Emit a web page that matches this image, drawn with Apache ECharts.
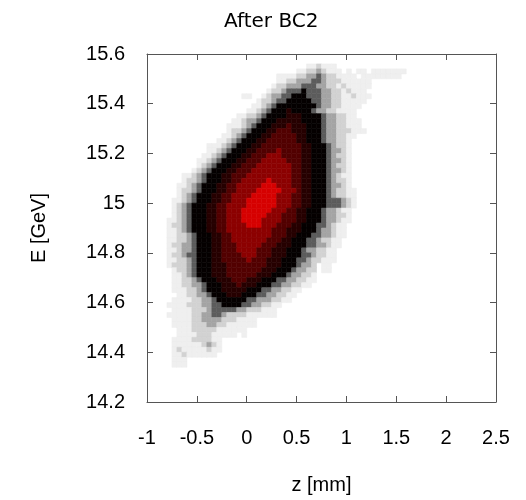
<!DOCTYPE html>
<html>
<head>
<meta charset="utf-8">
<script src="https://cdn.jsdelivr.net/npm/echarts@6/dist/echarts.min.js"></script>
<style>
  html, body { margin: 0; padding: 0; background: #fff; }
  #chart { width: 526px; height: 500px; }
</style>
</head>
<body>
<div id="chart"></div>
<script>
// histogram bins: z (mm) columns, E (GeV) rows
const zFirstEdge = -0.8;
const zBin = 0.05;
const eTopEdge = 15.56;
const eBin = 0.02;

const xTicks = [-1, 2.5, 0.5];     // min, max, step
const yTicks = [14.2, 15.6, 0.2];

// first non-empty column of each row (row 0 = top)
const rowStart = [
  28, 26, 22, 22, 21, 20, 15, 18, 17, 16,
  14, 13, 12, 12, 11, 10, 8, 8, 7, 6,
  6, 5, 3, 3, 2, 2, 2, 1, 1, 1,
  1, 0, 0, 0, 0, 0, 0, 0, 0, 0,
  0, 1, 1, 1, 1, 1, 2, 1, 0, 1,
  0, 1, 1, 2, 2, 1, 1, 1, 1, 1,
  1
];

// density level per cell: 0 empty, 1-4 greys, 5 black, 6-9 dark to bright red
const rowLevels = [
  "112111",
  "1122321110101101111111",
  "11112233432211110111111110",
  "1122333443222111111",
  "12233344433221211111",
  "12234445444332212111",
  "11001233445554443322112111",
  "1223445555544332211111",
  "1123455555555433221111",
  "1123455565555433221111",
  "112234 55556665555 4332211",
  "112334 555666665555 43322111",
  "111234 5556667666555 43322111",
  "12234 55566777666555 433222111",
  "11234 555667777766555 4332211",
  "11234 5556677777766555 433221",
  "111234 555667777777766555 43221",
  "11234 5556677778777766555 43321",
  "11234 55566777888777766555 43221",
  "11234 555667778888877766555 43321",
  "1234 5556677788888887766555 43221",
  "1234 55566777888888887766555 43321",
  "11234 555667778888888887766555 43211",
  "12234 555667788888988887766555 43221",
  "11234 5556677888889998887766555 43321",
  "12234 5556677888899999888766555 432211",
  "1234 55566778888999998887766555 432211",
  "11234 55566778889999998887766555 444321",
  "1234 555667788889999998887766555 444321",
  "1234 55566778889999998887766555 433211",
  "1234 55566778889999988877766555 433221",
  "11234 55566778889999888877766555 433211",
  "12234 5556677888899988877766555 443211",
  "11234 5556677888888888777666555 433211",
  "112234 55566778888888877766555 4433211",
  "112234 5556677888888877766555 4432211",
  "122334 5556677788888777666555 4433211",
  "112334 555667778888777666555 4332211",
  "122344 555667777888777666555 4432211",
  "112234 55566777778777666555 44322111",
  "122234 55566677777777666555 4332011",
  "12234 5556667777777666555 43322011",
  "11234 555666777777666555 433221",
  "112234 555666777666555 44332211",
  "1122334 5556667666555 44332211",
  "1112234 55566666555 44332211",
  "1122334 555666555 44332211",
  "111122334 555555 443332211",
  "11112223344 5555 44332211",
  "111122234444433222111",
  "1111122334432222111111",
  "11112233332221111",
  "11112223322111111",
  "11122222111111",
  "11112221111101",
  "1111222211",
  "1111112321",
  "1211111211",
  "1121111110",
  "111",
  "111"
];

const levelColors = ['#efefef', '#d2d2d2', '#a4a4a4', '#5c5c5c', '#050000',
                     '#260000', '#520000', '#8c0000', '#d60000'];

let cells = [];
rowLevels.forEach((s, r) => {
  const levels = s.replace(/ /g, '');
  const e = eTopEdge - eBin * (r + 0.5);
  for (let i = 0; i < levels.length; i++) {
    const v = +levels[i];
    if (v > 0) {
      const z = zFirstEdge + zBin * (rowStart[r] + i + 0.5);
      cells.push([+z.toFixed(3), +e.toFixed(3), v]);
    }
  }
});

let myChart = echarts.init(document.getElementById('chart'));

const axisColor = '#555';
const labelFont = 'Liberation Sans';

function xAxisCfg(pos, showLabel) {
  return {
    type: 'value',
    position: pos,
    min: xTicks[0],
    max: xTicks[1],
    interval: xTicks[2],
    axisLine: { show: true, onZero: false, lineStyle: { color: axisColor, width: 1 } },
    axisTick: { show: true, inside: true, length: 6, lineStyle: { color: axisColor } },
    axisLabel: { show: showLabel, color: '#000', fontSize: 20, fontFamily: labelFont, margin: 26 },
    splitLine: { show: false }
  };
}

function yAxisCfg(pos, showLabel) {
  return {
    type: 'value',
    position: pos,
    min: yTicks[0],
    max: yTicks[1],
    interval: yTicks[2],
    axisLine: { show: true, onZero: false, lineStyle: { color: axisColor, width: 1 } },
    axisTick: { show: true, inside: true, length: 6, lineStyle: { color: axisColor } },
    axisLabel: { show: showLabel, color: '#000', fontSize: 20, fontFamily: labelFont, margin: 22 },
    splitLine: { show: false }
  };
}

let xBottom = xAxisCfg('bottom', true);
xBottom.name = 'z [mm]';
xBottom.nameLocation = 'middle';
xBottom.nameGap = 73;
xBottom.nameTextStyle = { color: '#000', fontSize: 20, fontFamily: labelFont };

let yLeft = yAxisCfg('left', true);
yLeft.name = 'E [GeV]';
yLeft.nameLocation = 'middle';
yLeft.nameGap = 98;
yLeft.nameTextStyle = { color: '#000', fontSize: 20, fontFamily: labelFont };

let option = {
  animation: false,
  backgroundColor: '#fff',
  title: {
    text: 'After BC2',
    left: 219,
    top: 7,
    textStyle: { color: '#000', fontSize: 20, fontWeight: 'normal', fontFamily: 'DejaVu Sans' }
  },
  grid: { left: 147, right: 30, top: 54, bottom: 96 },
  xAxis: [xBottom, xAxisCfg('top', false)],
  yAxis: [yLeft, yAxisCfg('right', false)],
  visualMap: {
    show: false,
    type: 'continuous',
    dimension: 2,
    min: 1,
    max: 9,
    inRange: { color: levelColors }
  },
  series: [{
    type: 'custom',
    xAxisIndex: 0,
    yAxisIndex: 0,
    clip: true,
    data: cells,
    renderItem(params, api) {
      const z = api.value(0);
      const e = api.value(1);
      const p0 = api.coord([z - zBin / 2, e + eBin / 2]);
      const p1 = api.coord([z + zBin / 2, e - eBin / 2]);
      const color = api.visual('color');
      return {
        type: 'rect',
        shape: { x: p0[0], y: p0[1], width: p1[0] - p0[0], height: p1[1] - p0[1] },
        style: { fill: color, stroke: color, lineWidth: 0.6 }
      };
    }
  }]
};

myChart.setOption(option, true);
</script>
</body>
</html>
